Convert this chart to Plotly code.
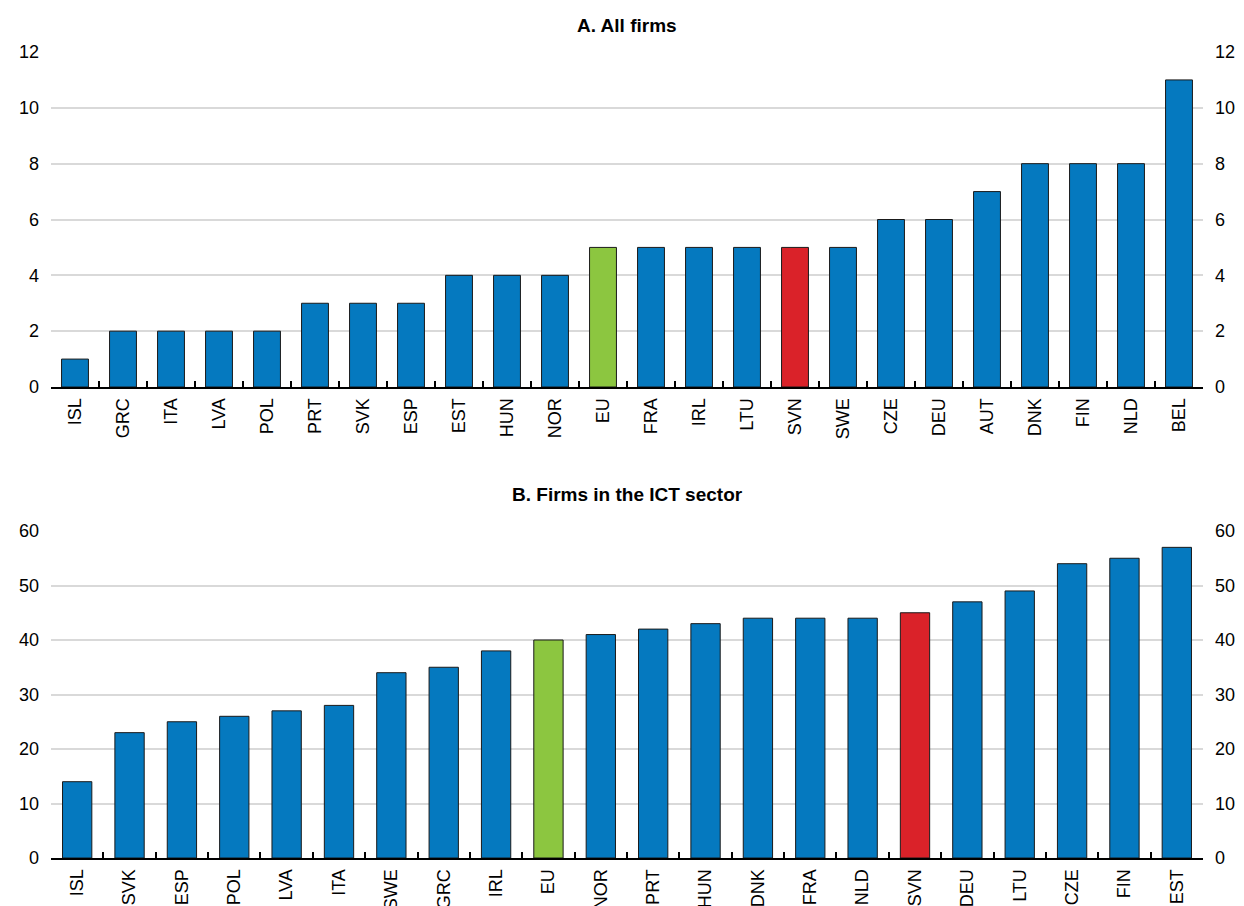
import plotly.graph_objects as go

cats_a = ["ISL","GRC","ITA","LVA","POL","PRT","SVK","ESP","EST","HUN","NOR","EU","FRA","IRL","LTU","SVN","SWE","CZE","DEU","AUT","DNK","FIN","NLD","BEL"]
vals_a = [1,2,2,2,2,3,3,3,4,4,4,5,5,5,5,5,5,6,6,7,8,8,8,11]
cats_b = ["ISL","SVK","ESP","POL","LVA","ITA","SWE","GRC","IRL","EU","NOR","PRT","HUN","DNK","FRA","NLD","SVN","DEU","LTU","CZE","FIN","EST"]
vals_b = [14,23,25,26,27,28,34,35,38,40,41,42,43,44,44,44,45,47,49,54,55,57]
ticks_a = [0,2,4,6,8,10,12]
ticks_b = [0,10,20,30,40,50,60]

BLUE = "#0579BF"
GREEN = "#8CC640"
RED = "#DA2229"

def colors(cats):
    return [GREEN if c == "EU" else RED if c == "SVN" else BLUE for c in cats]

FONT = "Liberation Sans Narrow, Arial Narrow, Liberation Sans, Arial"

fig = go.Figure()
fig.add_trace(go.Bar(x=cats_a, y=vals_a, marker=dict(color=colors(cats_a), line=dict(color="#1a1a1a", width=1)),
                     width=0.56, xaxis="x", yaxis="y", showlegend=False))
fig.add_trace(go.Bar(x=cats_b, y=vals_b, marker=dict(color=colors(cats_b), line=dict(color="#1a1a1a", width=1)),
                     width=0.56, xaxis="x2", yaxis="y3", showlegend=False))
# invisible traces for right axes
fig.add_trace(go.Scatter(x=[cats_a[0]], y=[0], xaxis="x", yaxis="y2", mode="markers", marker=dict(opacity=0), showlegend=False, hoverinfo="skip"))
fig.add_trace(go.Scatter(x=[cats_b[0]], y=[0], xaxis="x2", yaxis="y4", mode="markers", marker=dict(opacity=0), showlegend=False, hoverinfo="skip"))

H = 858.0
dA = [(H - 387) / H, (H - 52) / H]
dB = [0.0, (H - 531) / H]

xcommon = dict(type="category", showline=True, linecolor="#000", linewidth=2, ticks="inside", ticklen=6,
               tickcolor="#000", tickwidth=1.5, tickson="boundaries", tickangle=-90, showgrid=False,
               tickfont=dict(size=18, color="#000"), automargin=False, ticklabelstandoff=2)
ycommon = dict(showline=False, showgrid=True, gridcolor="#d9d9d9", gridwidth=1.5, zeroline=False,
               ticks="", tickfont=dict(size=18, color="#000"), automargin=False, ticklabelstandoff=11)

fig.update_layout(
    width=1244, height=906,
    margin=dict(l=51, r=41, t=0, b=48),
    paper_bgcolor="white", plot_bgcolor="white",
    font=dict(family=FONT, color="#000"),
    bargap=0.44,
    xaxis=dict(**xcommon, domain=[0, 1], anchor="y", range=[-0.5, len(cats_a) - 0.5]),
    xaxis2=dict(**xcommon, domain=[0, 1], anchor="y3", range=[-0.5, len(cats_b) - 0.5]),
    yaxis=dict(**ycommon, domain=dA, range=[0, 12], tickvals=ticks_a, anchor="x"),
    yaxis2=dict(**{**ycommon, "showgrid": False}, domain=dA, range=[0, 12], tickvals=ticks_a, overlaying="y", side="right", anchor="x"),
    yaxis3=dict(**ycommon, domain=dB, range=[0, 60], tickvals=ticks_b, anchor="x2"),
    yaxis4=dict(**{**ycommon, "showgrid": False}, domain=dB, range=[0, 60], tickvals=ticks_b, overlaying="y3", side="right", anchor="x2"),
    annotations=[
        dict(text="<b>A. All firms</b>", x=0.5, xref="paper", y=26, yref="paper", showarrow=False,
             font=dict(size=19, color="#000")),
        dict(text="<b>B. Firms in the ICT sector</b>", x=0.5, xref="paper", y=495, yref="paper", showarrow=False,
             font=dict(size=19, color="#000")),
    ],
)
# convert title pixel y to paper coords
for ann in fig.layout.annotations:
    ann.y = (H - ann.y) / H
    ann.yanchor = "middle"

fig.write_html("out.html", config={"displayModeBar": False},
               post_script="document.body.style.margin='0';document.body.style.overflow='hidden';")
